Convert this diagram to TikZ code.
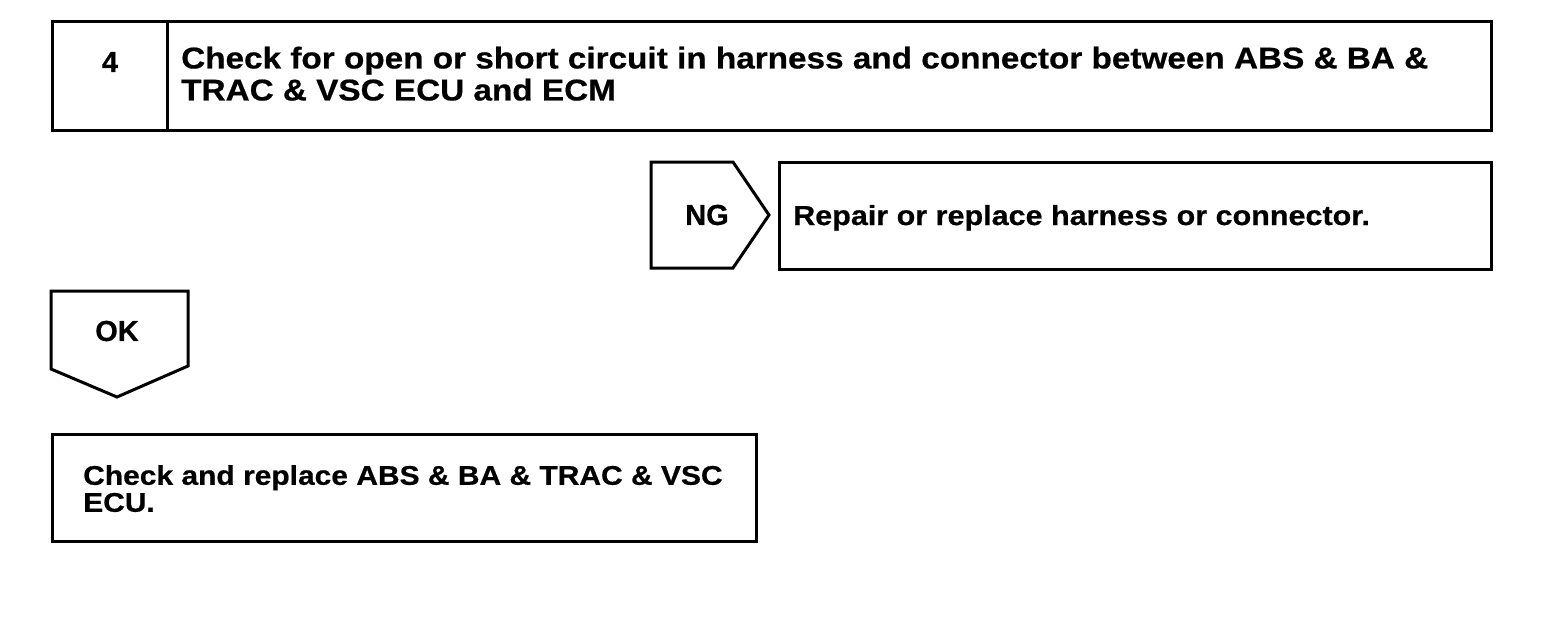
\documentclass[tikz,border=0pt]{standalone}
\usepackage{fontspec}
\setmainfont{Liberation Sans}
\newfontfamily\widesans{Liberation Sans}[FakeStretch=1.11, BoldFeatures={FakeBold=0.6}]
\newfontfamily\tagsans{Liberation Sans}[BoldFeatures={FakeBold=0.6}]
\begin{document}
\begin{tikzpicture}[x=1pt,y=-1pt,
  box/.style={draw, line width=3pt, rectangle, inner sep=0pt, anchor=north west},
  bigtxt/.style={font=\widesans\bfseries\fontsize{30}{32}\selectfont, inner sep=0pt, align=left, anchor=north west},
  midtxt/.style={font=\widesans\bfseries\fontsize{27.5}{30}\selectfont, inner sep=0pt, anchor=base west},
  smalltxt/.style={font=\widesans\bfseries\fontsize{27}{27}\selectfont, inner sep=0pt, align=left, anchor=north west},
  tag/.style={font=\tagsans\bfseries\fontsize{29}{30}\selectfont, inner sep=0pt, anchor=center},
  shape line/.style={draw, line width=3pt, line join=miter}]
\useasboundingbox (0,0) rectangle (1568,622);

% step box
\node[box, minimum width=1439pt, minimum height=109pt] (stepbox) at (51,20) {};
\coordinate (divtop) at (167,20);
\coordinate (divbot) at (167,129);
\draw[line width=3pt] (divtop) -- (divbot);
\node[tag] (num) at (110,62) {4};
\node[bigtxt] (steptext) at (181,46.5) {Check for open or short circuit in harness and connector between ABS \& BA \&\\TRAC \& VSC ECU and ECM};

% NG branch
\draw[shape line] (651,162) -- (733,162) -- (769,215) -- (733,268) -- (651,268) -- cycle;
\node[tag] (ng) at (707,215) {NG};
\node[box, minimum width=712pt, minimum height=107pt] (ngbox) at (778,161) {};
\node[midtxt] (ngtext) at (793,225) {Repair or replace harness or connector.};

% OK branch
\draw[shape line] (51,291) -- (188,291) -- (188,366) -- (117,397) -- (51,369) -- cycle;
\node[tag] (ok) at (117,331) {OK};

% result box
\node[box, minimum width=704pt, minimum height=107pt] (okbox) at (51,433) {};
\node[smalltxt] (oktext) at (83,465) {Check and replace ABS \& BA \& TRAC \& VSC\\ECU.};
\end{tikzpicture}
\end{document}
